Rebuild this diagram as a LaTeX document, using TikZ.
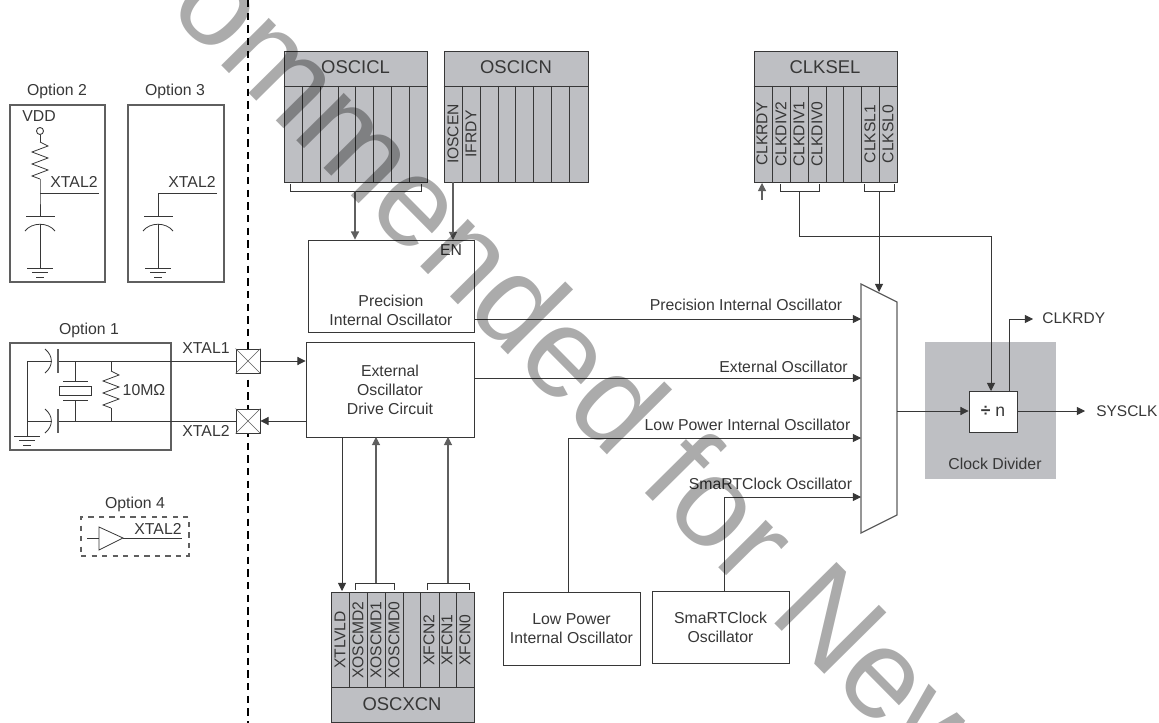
\documentclass[tikz,border=0pt]{standalone}
\usepackage{fontspec}
\setmainfont{Liberation Sans}
\usetikzlibrary{arrows.meta,positioning,calc}
\definecolor{regfill}{RGB}{190,191,195}
\definecolor{traco}{RGB}{55,55,55}
\definecolor{tracoclaro}{RGB}{95,95,95}
\begin{document}
\begin{tikzpicture}[x=0.02cm,y=-0.02cm,
    lbl/.style={inner sep=0pt,text=traco,font=\fontsize{9}{10.8}\selectfont,align=center},
    bigl/.style={inner sep=0pt,text=traco,font=\fontsize{10.5}{12}\selectfont},
    regbit/.style={inner sep=0pt,rotate=90,text=traco,font=\fontsize{8.9}{10}\selectfont},
    box/.style 2 args={draw=traco,fill=white,line width=0.5pt,inner sep=0pt,text=traco,align=center,
                  font=\fontsize{9}{10.8}\selectfont,minimum width=#1*0.02cm,minimum height=#2*0.02cm},
    regbox/.style 2 args={draw=traco,fill=regfill,line width=0.5pt,inner sep=0pt,
                  minimum width=#1*0.02cm,minimum height=#2*0.02cm},
    optbox/.style 2 args={draw=tracoclaro,line width=0.6pt,inner sep=0pt,
                  minimum width=#1*0.02cm,minimum height=#2*0.02cm},
    padbox/.style={draw=traco,fill=white,line width=0.5pt,inner sep=0pt,minimum width=24*0.02cm,minimum height=24*0.02cm},
    wire/.style={draw=traco,line width=0.45pt},
    seta/.style={-{Triangle[length=4.6pt,width=4.6pt]},traco,line width=0.5pt},
    setaclara/.style={-{Triangle[length=4.6pt,width=4.6pt]},tracoclaro,line width=0.6pt},
    gndsym/.pic={\draw[wire] (-13,0) -- (13,0) (-8,4.5) -- (8,4.5) (-4,9) -- (4,9);},
    resvert/.pic={\draw[wire] (0,0) -- (8,4) -- (-8,10) -- (8,16) -- (-8,22) -- (8,28) -- (-8,34) -- (0,37);}]
  \useasboundingbox (0,0) rectangle (1159,723);
  \clip (0,0) rectangle (1159,723);
  % pin boundary
  \coordinate (bnda) at (248,0);
  \coordinate (bndb) at (248,723);
  \draw[black,line width=1.3pt,dash pattern=on 4.2pt off 3pt] (bnda) -- (bndb);
  % option 2 and option 3
  \node[lbl] (lopta) at (57,91) {Option 2};
  \node[lbl] (loptb) at (175,91) {Option 3};
  \node[optbox={95}{177}] (opta) at (57.5,193.5) {};
  \node[optbox={96}{177}] (optb) at (176,193.5) {};
  \node[lbl] (vdd) at (39,116) {VDD};
  \node[draw=traco,circle,line width=0.5pt,inner sep=0pt,minimum size=4pt] (vddpin) at (40,131) {};
  \coordinate (ra) at (40,142);
  \coordinate (ja) at (40,193);
  \draw[wire] (vddpin) -- (ra);
  \pic at (ra) {resvert};
  \draw[wire] (40,179) -- (ja) -- (40,216);
  \draw[wire] (ja) -- (99,193);
  \node[lbl] (xtb) at (74,182) {XTAL2};
  \draw[wire] (26,216) -- (55,216);
  \draw[wire] (25,231) .. controls (32,222) and (48,222) .. (55,231);
  \draw[wire] (40,223.5) -- (40,268);
  \pic at (40,268) {gndsym};
  \node[lbl] (xtc) at (192,182) {XTAL2};
  \draw[wire] (217,193) -- (158,193) -- (158,216);
  \draw[wire] (144,216) -- (173,216);
  \draw[wire] (143,231) .. controls (150,222) and (166,222) .. (173,231);
  \draw[wire] (158,223.5) -- (158,268);
  \pic at (158,268) {gndsym};
  % option 1
  \node[lbl] (loptc) at (89,330) {Option 1};
  \node[optbox={161}{107}] (optc) at (90.5,396.5) {};
  \node[lbl] (xtd) at (206,348) {XTAL1};
  \node[lbl] (xte) at (206,431) {XTAL2};
  \node[lbl] (rval) at (144,390) {10MΩ};
  \node[padbox] (pada) at (248,361) {};
  \node[padbox] (padb) at (248,421) {};
  \foreach \p in {pada,padb} {
    \draw[tracoclaro,line width=0.35pt] (\p.north west) -- (\p.south east) (\p.north east) -- (\p.south west);
  }
  \draw[wire] (58,361) -- (pada.west);
  \draw[wire] (58,421) -- (padb.west);
  \draw[wire] (52,361) -- (27,361) -- (27,436);
  \draw[wire] (27,421) -- (52,421);
  \pic at (27,436) {gndsym};
  \foreach \y in {361,421} {
    \draw[wire] (45,\y-12) .. controls (53.5,\y-5) and (53.5,\y+5) .. (45,\y+12);
    \draw[tracoclaro,line width=0.7pt] (58,\y-12) -- (58,\y+12);
  }
  \draw[wire] (75,361) -- (75,381);
  \draw[wire] (63,381) -- (88,381) (63,400) -- (88,400);
  \node[draw=traco,line width=0.5pt,inner sep=0pt,minimum width=32*0.02cm,minimum height=9*0.02cm] (xtal) at (75,390.5) {};
  \draw[wire] (75,400) -- (75,421);
  \draw[wire] (111,361) -- (111,371);
  \pic at (111,371) {resvert};
  \draw[wire] (111,408) -- (111,421);
  % option 4
  \node[lbl] (loptd) at (135,504) {Option 4};
  \node[optbox={108}{39},dashed] (optd) at (135,536.5) {};
  \node[lbl] (xtf) at (158,529) {XTAL2};
  \coordinate (buf) at (123,538);
  \draw[wire,fill=white] (99,527) -- (99,550) -- (buf) -- cycle;
  \draw[wire] (87,538) -- (99,538);
  \draw[wire] (buf) -- (182,538);
  % registers on top
  \node[regbox={143}{131}] (oscicl) at (355.5,116.5) {};
  \node[regbox={144}{131}] (oscicn) at (516,116.5) {};
  \node[regbox={143}{131}] (clksel) at (825.5,116.5) {};
  \foreach \r in {oscicl,oscicn,clksel} {
    \draw[wire] (\r.west |- 0,86) -- (\r.east |- 0,86);
  }
  \node[bigl] (tcl) at (355.5,67.5) {OSCICL};
  \node[bigl] (tcn) at (516,67.5) {OSCICN};
  \node[bigl] (tcs) at (825,67.5) {CLKSEL};
  \foreach \x in {302,320,338,355,373,391,409,462,480,498,515,533,551,569,772,790,808,826,843,861,879} {
    \draw[wire] (\x,86) -- (\x,182);
  }
  \node[regbit] (bcena) at (453,134) {IOSCEN};
  \node[regbit] (bcenb) at (471,134) {IFRDY};
  \foreach \x/\t in {762/CLKRDY,781/CLKDIV2,799/CLKDIV1,817/CLKDIV0,870/CLKSL1,888/CLKSL0} {
    \node[regbit] (b\t) at (\x,134) {\t};
  }
  % brackets below the registers
  \draw[wire] (290,184) -- (290,191) -- (421,191) -- (421,184);
  \draw[wire] (780,184) -- (780,191) -- (819,191) -- (819,184);
  \draw[wire] (864,184) -- (864,191) -- (894,191) -- (894,184);
  \coordinate (brcl) at (355,191);
  \coordinate (brdiv) at (799,191);
  \coordinate (brsl) at (879,191);
  % oscillator blocks
  \node[box={166}{92}] (prec) at (391,286) {};
  \node[lbl] (tprec) at (391,310.5) {Precision\\Internal Oscillator};
  \node[lbl] (en) at (451,250) {EN};
  \node[box={168}{95},text depth=0pt] (ext) at (390,389.5) {External\\Oscillator\\Drive Circuit};
  \node[box={137}{73}] (lpo) at (571.5,628.5) {Low Power\\Internal Oscillator};
  \node[box={137}{72}] (rtc) at (720.5,627.5) {SmaRTClock\\Oscillator};
  \draw[setaclara] (brcl) -- (brcl |- prec.north);
  \draw[setaclara] (453,182) -- (453,240);
  % selector
  \coordinate (muxa) at (861,284);
  \coordinate (muxb) at (897,302);
  \coordinate (muxc) at (897,515);
  \coordinate (muxd) at (861,533);
  \draw[draw=tracoclaro,fill=white,line width=0.7pt] (muxa) -- (muxb) -- (muxc) -- (muxd) -- cycle;
  \coordinate (ina) at (861,319);
  \coordinate (inb) at (861,378);
  \coordinate (inc) at (861,438);
  \coordinate (ind) at (861,497);
  \coordinate (muxo) at (897,411);
  \draw[seta] (prec.east |- ina) -- (ina);
  \draw[seta] (ext.east |- inb) -- (inb);
  \draw[seta] (568,592) -- (568,438) -- (inc);
  \draw[seta] (724,591.5) -- (724,497) -- (ind);
  \node[lbl] (lprec) at (746,305) {Precision Internal Oscillator};
  \node[lbl] (lext) at (783.5,367) {External Oscillator};
  \node[lbl] (llpo) at (747.5,425) {Low Power Internal Oscillator};
  \node[lbl] (lrtc) at (770.5,484) {SmaRTClock Oscillator};
  % clock divider
  \node[fill=regfill,inner sep=0pt,minimum width=131*0.02cm,minimum height=137*0.02cm] (cdiv) at (990.5,410.5) {};
  \node[box={48}{41},font=\fontsize{10}{12}\selectfont] (divn) at (993,411.5) {{\bfseries ÷} n};
  \node[lbl] (tdiv) at (995,464) {Clock Divider};
  \coordinate (sysend) at (1085,411);
  \coordinate (rdyend) at (1033,319);
  \draw[seta] (muxo) -- (divn.west |- muxo);
  \draw[seta] (divn.east |- sysend) -- (sysend);
  \draw[seta] (1009,391) -- (1009,319) -- (rdyend);
  \node[lbl,anchor=west,font=\fontsize{8.8}{10}\selectfont] (lsys) at (1096,411) {SYSCLK};
  \node[lbl,anchor=west,font=\fontsize{8.8}{10}\selectfont] (lrdy) at (1042,318) {CLKRDY};
  \draw[wire] (brdiv) -- (799,236) -- (991,236);
  \draw[seta] (991,236) -- (991,391);
  \draw[seta] (brsl) -- (879,292);
  \coordinate (rdyin) at (762,200);
  \draw[setaclara] (rdyin) -- (762,183);
  % bottom register
  \node[regbox={143}{130}] (oscxcn) at (402.5,657) {};
  \draw[wire] (331,687) -- (474,687);
  \foreach \x in {349,367,385,403,420,439,456} {
    \draw[wire] (\x,592) -- (\x,687);
  }
  \node[bigl] (txc) at (402,704) {OSCXCN};
  \foreach \x/\t in {340/XTLVLD,358/XOSCMD2,376/XOSCMD1,394/XOSCMD0,429/XFCN2,447/XFCN1,465/XFCN0} {
    \node[regbit] (b\t) at (\x,640) {\t};
  }
  \draw[wire] (355,590) -- (355,583) -- (394.5,583) -- (394.5,590);
  \draw[wire] (427,590) -- (427,583) -- (469,583) -- (469,590);
  \draw[seta] (342,437) -- (342,591);
  \draw[setaclara] (376,583) -- (376,437);
  \draw[setaclara] (448,583) -- (448,437);
  \draw[seta] (pada.east) -- (ext.west |- pada);
  \draw[seta] (ext.west |- padb) -- (padb.east);
  % diagonal stamp
  \node[inner sep=0pt,anchor=base west,rotate=-45.3,text=black,opacity=0.33,
        font=\fontsize{72.3}{73}\selectfont] (stamp) at (166,9) {ommended for New};
\end{tikzpicture}
\end{document}
